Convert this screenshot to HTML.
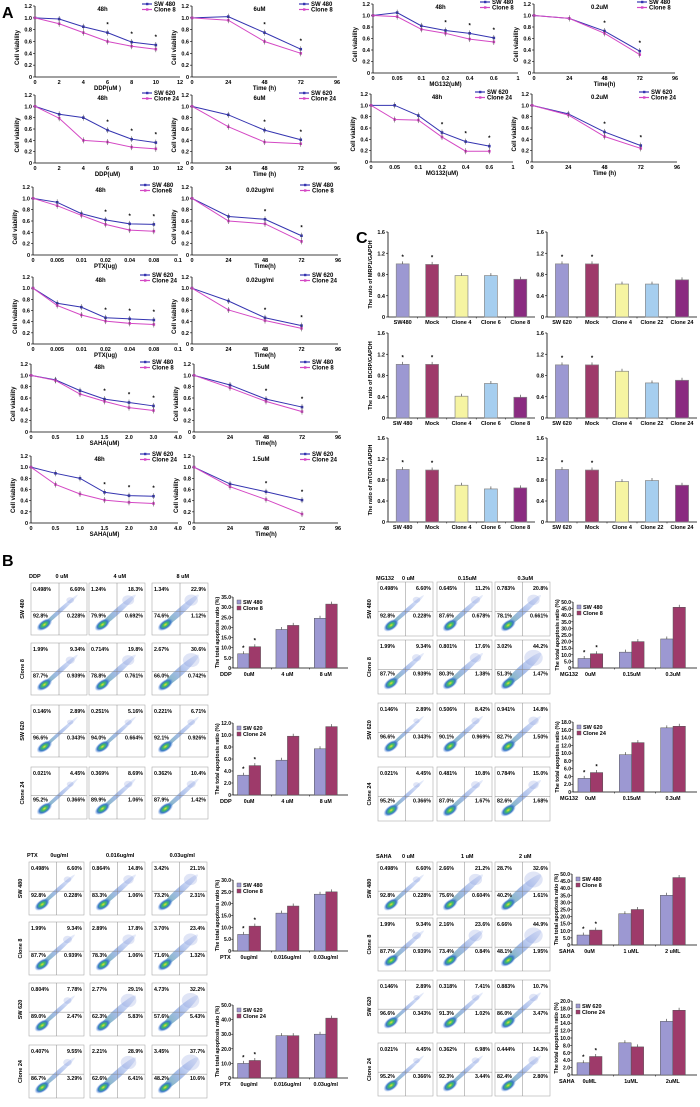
<!DOCTYPE html>
<html><head><meta charset="utf-8"><style>
html,body{margin:0;padding:0;background:#fff;}
svg{display:block;font-family:"Liberation Sans",Arial,sans-serif;font-weight:bold;}
</style></head><body>
<svg id="fig" width="700" height="1107" viewBox="0 0 700 1107" xmlns="http://www.w3.org/2000/svg">
<defs>
<radialGradient id="core" cx="50%" cy="50%" r="50%"><stop offset="0" stop-color="#f0e030"/><stop offset="0.3" stop-color="#40c060"/><stop offset="0.65" stop-color="#3a78c8"/><stop offset="1" stop-color="#7aa0e8" stop-opacity="0"/></radialGradient>
<linearGradient id="diag" x1="0" y1="0" x2="1" y2="0"><stop offset="0" stop-color="#30a070" stop-opacity="0.7"/><stop offset="0.5" stop-color="#3a6ad0" stop-opacity="0.45"/><stop offset="1" stop-color="#6a8ae0" stop-opacity="0.15"/></linearGradient>
</defs>
<text x="2" y="18" font-size="16">A</text>
<text x="356" y="243" font-size="16">C</text>
<text x="2" y="566" font-size="16">B</text>
</svg>
<script>
// ---- Panel A line chart data ----
const doseTicks=["0","2","4","6","8","10","12"];
const timeTicks=["0","24","48","72","96"];
const mgTicks=["0","0.05","0.1","0.2","0.4","0.6","1"];
const ptxTicks=["0","0.005","0.01","0.02","0.04","0.08","0.1"];
const sahaTicks=["0","0.5","1.0","1.5","2.0","3.0","4.0"];
const vTicks=[0,0.2,0.4,0.6,0.8,1.0,1.2];
const ddp480=[1.0,0.98,0.85,0.75,0.59,0.54], ddpC8=[1.0,0.9,0.75,0.6,0.52,0.47];
const ddpT480=[1.0,1.02,0.75,0.47], ddpTC8=[1.0,0.96,0.6,0.4];
const mg480=[1.0,1.05,0.82,0.74,0.69,0.61], mgC8=[1.0,0.98,0.76,0.69,0.59,0.54];
const mgT480=[1.0,0.95,0.73,0.38], mgTC8=[1.0,0.95,0.69,0.32];
const ddp620=[1.0,0.86,0.8,0.58,0.42,0.36], ddpC24=[1.0,0.79,0.4,0.37,0.28,0.25];
const ddpT620=[1.0,0.85,0.58,0.41], ddpTC24=[1.0,0.64,0.37,0.34];
const mg620=[1.0,1.0,0.82,0.52,0.36,0.28], mgC24=[1.0,0.75,0.74,0.44,0.19,0.19];
const mgT620=[1.0,0.85,0.53,0.29], mgTC24=[1.0,0.83,0.45,0.24];
const ptx480=[1.0,0.93,0.73,0.62,0.55,0.54], ptxC8=[1.0,0.87,0.7,0.54,0.44,0.42];
const ptxT480=[1.0,0.68,0.63,0.34], ptxTC8=[1.0,0.6,0.55,0.24];
const ptx620=[1.0,0.73,0.66,0.47,0.45,0.43], ptxC24=[1.0,0.69,0.52,0.41,0.37,0.35];
const ptxT620=[1.0,0.77,0.47,0.33], ptxTC24=[1.0,0.61,0.42,0.28];
const saha480=[1.0,0.92,0.73,0.58,0.52,0.46], sahaC8=[1.0,0.91,0.67,0.54,0.43,0.38];
const sahaT480=[1.0,0.83,0.58,0.44], sahaTC8=[1.0,0.78,0.54,0.36];
const saha620=[1.0,0.89,0.8,0.55,0.49,0.48], sahaC24=[1.0,0.69,0.52,0.41,0.37,0.35];
const sahaT620=[1.0,0.7,0.56,0.41], sahaTC24=[1.0,0.65,0.42,0.16];

// ---- Panel C bar data ----
const cColors=["#9c98d2","#9e3a6a","#f6f4a2","#a6ceef","#8a2b80"];
const cTicks=[0,0.4,0.8,1.2,1.6];
const cats480=["SW480","Mock","Clone 4","Clone 6","Clone 8"];
const cats480b=["SW 480","Mock","Clone 4","Clone 6","Clone 8"];
const cats620=["SW 620","Mock","Clone 4","Clone 22","Clone 24"];
const mrp480=[1.0,0.99,0.78,0.78,0.71], mrp620=[1.0,1.0,0.62,0.62,0.7];
const bcrp480=[1.01,1.01,0.41,0.65,0.39], bcrp620=[1.0,1.0,0.88,0.66,0.71];
const mtor480=[1.0,0.99,0.7,0.63,0.65], mtor620=[1.0,0.99,0.77,0.79,0.7];

// ---- Panel B apoptosis bar data ----
const ddpGroups=["0uM","4 uM","8 uM"], mgGroups=["0uM","0.15uM","0.3uM"];
const ptxGroups=["0ug/ml","0.016ug/ml","0.03ug/ml"], sahaGroups=["0uM","1 uML","2 uML"];
const sahaGroups2=["0uML","1uML","2uML"];
const apDdp480=[7,19,24.5], apDdpC8=[10.5,21,31.5];
const apDdp620=[3.3,5.8,7.7], apDdpC24=[4.9,9.8,11.4];
const apMg480=[7.2,12,22], apMgC8=[10.8,20,46];
const apMg620=[3.5,9.6,16.5], apMgC24=[5,12.7,16.9];
const apPtx480=[7,16,24], apPtxC8=[10.5,19,25];
const apPtx620=[10,29,30], apPtxC24=[12,29,41];
const apSaha480=[7,22,35], apSahaC8=[10.5,25,47.5];
const apSaha620=[3.3,8.7,14.5], apSahaC24=[5,7.6,17.5];

// ---- Panel B flow quadrant values [UL, UR, LL, LR] ----
const fBase480=[0.498,6.60,92.8,0.228], fBaseC8=[1.99,9.34,87.7,0.939], fBase620=[0.146,2.89,96.6,0.343], fBaseC24=[0.021,4.45,95.2,0.366];
const fDdp=[[fBase480,[1.24,18.3,79.9,0.692],[1.34,22.9,74.6,1.12]],[fBaseC8,[0.714,19.8,78.8,0.761],[2.67,30.6,66.0,0.742]],[fBase620,[0.251,5.16,94.0,0.664],[0.221,6.71,92.1,0.926]],[fBaseC24,[0.369,8.69,89.9,1.06],[0.362,10.4,87.9,1.42]]];
const fMg=[[fBase480,[0.645,11.2,87.6,0.678],[0.783,20.8,78.1,0.661]],[fBaseC8,[0.801,17.6,80.3,1.38],[3.02,44.2,51.3,1.47]],[fBase620,[0.506,8.42,90.1,0.969],[0.941,14.8,82.7,1.50]],[fBaseC24,[0.481,10.8,87.0,1.67],[0.784,15.0,82.6,1.68]]];
const fPtx=[[fBase480,[0.864,14.8,83.3,1.06],[3.42,21.1,73.2,2.31]],[fBaseC8,[2.89,17.8,78.3,1.06],[3.70,23.4,71.6,1.32]],[[0.804,7.78,89.0,2.47],[2.77,29.1,62.3,5.83],[4.73,32.2,57.6,5.43]],[[0.407,9.55,86.7,3.29],[2.21,28.9,62.6,6.41],[3.45,37.7,48.2,10.6]]];
const fSaha=[[fBase480,[2.66,21.2,75.6,0.604],[28.7,32.6,40.2,1.61]],[fBaseC8,[2.16,23.6,73.4,0.84],[6.66,44.9,48.1,1.95]],[fBase620,[0.318,7.41,91.3,1.02],[0.883,10.7,86.0,3.47]],[fBaseC24,[0.362,6.98,92.3,3.437],[0.444,14.3,82.4,2.80]]];

const NS="http://www.w3.org/2000/svg";
const svg=document.getElementById('fig');
function el(tag,attrs,parent,txt){const e=document.createElementNS(NS,tag);for(const k in attrs)e.setAttribute(k,attrs[k]);if(txt!==undefined)e.textContent=txt;(parent||svg).appendChild(e);return e;}
function grp(name,parent){const g=el('g',{},parent);return g;}

const BLUE="#3434b0", MAG="#d448c4";
function lineChart(name,x0,x1,yT,yB,title,xlabel,xt,s1,s2,n1,n2){
  const g=grp(name);
  const n=xt.length;
  const X=i=>x0+i*(x1-x0)/(n-1);
  const Y=v=>yB-(v/1.2)*(yB-yT);
  el('line',{x1:x0,y1:yT,x2:x0,y2:yB,stroke:'#000','stroke-width':0.8},g);
  el('line',{x1:x0,y1:yB,x2:x1,y2:yB,stroke:'#000','stroke-width':0.8},g);
  vTicks.forEach(v=>{el('line',{x1:x0-2,y1:Y(v),x2:x0,y2:Y(v),stroke:'#000','stroke-width':0.6},g);
    const t=el('text',{x:x0-3,y:Y(v)+2,'font-size':5.5,'text-anchor':'end'},g,v===0?'0':v.toFixed(1));});
  xt.forEach((l,i)=>{const t=el('text',{x:X(i),y:yB+7,'font-size':5.5,'text-anchor':'middle'},g,l);});
  const xtl=el('text',{x:(x0+x1)/2,y:yB+13,'font-size':6,'text-anchor':'middle'},g,xlabel);
  
  const yl=el('text',{x:0,y:0,'font-size':6,'text-anchor':'middle',transform:`translate(${x0-16},${(yT+yB)/2+6}) rotate(-90)`},g,'Cell viability');
  
  const tt=el('text',{x:(x0+x1)/2-5,y:yT+5,'font-size':6,'text-anchor':'middle'},g,title);
  
  [[s1,BLUE],[s2,MAG]].forEach(([s,c],k)=>{
    const pts=s.map((v,i)=>X(i)+','+Y(v)).join(' ');
    const pl=el('polyline',{points:pts,fill:'none',stroke:c,'stroke-width':1},g);
    
    s.forEach((v,i)=>{const r=el('rect',{x:X(i)-1.3,y:Y(v)-1.3,width:2.6,height:2.6,fill:c},g);
      
      el('line',{x1:X(i),y1:Y(v)-3,x2:X(i),y2:Y(v)+3,stroke:'#444','stroke-width':0.5},g);});
  });
  s1.forEach((v,i)=>{if(i>=(s1.length>4?3:2)){el('text',{x:X(i),y:Y(Math.max(v,s2[i]))-6,'font-size':6,'text-anchor':'middle'},g,'*');}});
  const lx=x1-38+ (x1-x0>150?10:0), ly=yT-2;
  [[n1,BLUE],[n2,MAG]].forEach(([nm,c],k)=>{
    const lg=grp('legend-entry',g);
    el('line',{x1:lx,y1:ly+k*5.5,x2:lx+10,y2:ly+k*5.5,stroke:c,'stroke-width':1.2},lg);
    el('rect',{x:lx+4,y:ly+k*5.5-1.2,width:2.4,height:2.4,fill:c},lg);
    el('text',{x:lx+12,y:ly+k*5.5+2,'font-size':6},lg,nm);
  });
}
lineChart('chart-ddp-dose-sw480',35,180,6,77,'48h','DDP(uM )',doseTicks,ddp480,ddpC8,'SW 480','Clone 8');
lineChart('chart-ddp-time-sw480',192,337,6,77,'6uM','Time (h)',timeTicks,ddpT480,ddpTC8,'SW 480','Clone 8');
lineChart('chart-mg132-dose-sw480',373,518,4,73,'48h','MG132(uM)',mgTicks,mg480,mgC8,'SW 480','Clone 8');
lineChart('chart-mg132-time-sw480',534,675,4,73,'0.2uM','Time(h)',timeTicks,mgT480,mgTC8,'SW 480','Clone 8');
lineChart('chart-ddp-dose-sw620',35,180,95,163,'48h','DDP(uM)',doseTicks,ddp620,ddpC24,'SW 620','Clone 24');
lineChart('chart-ddp-time-sw620',192,337,95,163,'6uM','Time (h)',timeTicks,ddpT620,ddpTC24,'SW 620','Clone 24');
lineChart('chart-mg132-dose-sw620',371,513,94,162,'48h','MG132(uM)',mgTicks,mg620,mgC24,'SW 620','Clone 24');
lineChart('chart-mg132-time-sw620',532,677,94,162,'0.2uM','Time (h)',timeTicks,mgT620,mgTC24,'SW 620','Clone 24');
lineChart('chart-ptx-dose-sw480',33,178,187,255,'48h','PTX(ug)',ptxTicks,ptx480,ptxC8,'SW 480','Clone8');
lineChart('chart-ptx-time-sw480',192,338,187,255,'0.02ug/ml','Time(h)',timeTicks,ptxT480,ptxTC8,'SW 480','Clone 8');
lineChart('chart-ptx-dose-sw620',33,178,277,344,'48h','PTX(ug)',ptxTicks,ptx620,ptxC24,'SW 620','Clone 24');
lineChart('chart-ptx-time-sw620',192,338,277,344,'0.02ug/ml','Time(h)',timeTicks,ptxT620,ptxTC24,'SW 620','Clone 24');
lineChart('chart-saha-dose-sw480',31,178,364,432,'48h','SAHA(uM)',sahaTicks,saha480,sahaC8,'SW 480','Clone 8');
lineChart('chart-saha-time-sw480',194,338,364,432,'1.5uM','Time(h)',timeTicks,sahaT480,sahaTC8,'SW 480','Clone 8');
lineChart('chart-saha-dose-sw620',31,178,456,523,'48h','SAHA(uM)',sahaTicks,saha620,sahaC24,'SW 620','Clone 24');
lineChart('chart-saha-time-sw620',194,338,456,523,'1.5uM','Time(h)',timeTicks,sahaT620,sahaTC24,'SW 620','Clone 24');

// ---- Panel C ----
function cChart(name,x0,x1,yT,yB,ylab,cats,vals){
  const g=grp(name);
  const Y=v=>yB-(v/1.6)*(yB-yT);
  const slot=(x1-x0)/cats.length;
  el('line',{x1:x0,y1:yT,x2:x0,y2:yB,stroke:'#000','stroke-width':0.8},g);
  el('line',{x1:x0,y1:yB,x2:x1,y2:yB,stroke:'#000','stroke-width':0.8},g);
  cTicks.forEach(v=>{el('line',{x1:x0-2,y1:Y(v),x2:x0,y2:Y(v),stroke:'#000','stroke-width':0.6},g);
    el('text',{x:x0-3,y:Y(v)+2,'font-size':5.5,'text-anchor':'end'},g,v===0?'0':v.toFixed(1));});
  if(ylab){const t=el('text',{x:0,y:0,'font-size':5.5,'text-anchor':'middle',transform:`translate(${x0-16},${(yT+yB)/2}) rotate(-90)`},g,ylab);}
  vals.forEach((v,i)=>{
    const bx=x0+i*slot+slot*0.28, bw=slot*0.44;
    const r=el('rect',{x:bx,y:Y(v),width:bw,height:yB-Y(v),fill:cColors[i],stroke:'#888','stroke-width':0.7},g);
    
    el('line',{x1:bx+bw/2,y1:Y(v)-2.5,x2:bx+bw/2,y2:Y(v),stroke:'#333','stroke-width':0.6},g);
    if(i<2)el('text',{x:bx+bw/2,y:Y(v)-5,'font-size':6,'text-anchor':'middle'},g,'*');
    el('text',{x:x0+i*slot+slot/2,y:yB+7,'font-size':5.5,'text-anchor':'middle'},g,cats[i]);
    if(i>0)el('line',{x1:x0+i*slot,y1:yB,x2:x0+i*slot,y2:yB+1.5,stroke:'#000','stroke-width':0.5},g);
  });
}
cChart('chart-mrp1-sw480',388,535,232,317,'The ratio of MRP1/GAPDH',cats480,mrp480);
cChart('chart-mrp1-sw620',547,697,232,317,'',cats620,mrp620);
cChart('chart-bcrp-sw480',388,535,333,418,'The ratio of BCRP/GAPDH',cats480b,bcrp480);
cChart('chart-bcrp-sw620',547,697,333,418,'',cats620,bcrp620);
cChart('chart-mtor-sw480',388,535,438,522,'The ratio of  mTOR /GAPDH',cats480b,mtor480);
cChart('chart-mtor-sw620',547,697,438,522,'',cats620,mtor620);

// ---- Panel B flow plots ----
function fmt(v){return (v>=1?v.toPrecision(3):String(v))+'%';}
function flowGroup(name,drug,concs,cols,rows,w,h,hy,data){
  const g=grp(name);
  el('text',{x:cols[0]-2,y:hy,'font-size':5.5},g,drug);
  concs.forEach((c,j)=>el('text',{x:cols[j]+w*0.55,y:hy,'font-size':5.5,'text-anchor':'middle'},g,c));
  const rl=['SW 480','Clone 8','SW 620','Clone 24'];
  rows.forEach((ry,i)=>{
    const t=el('text',{x:0,y:0,'font-size':5.5,'text-anchor':'middle',transform:`translate(${cols[0]-7},${ry+h/2}) rotate(-90)`},g,rl[i]);
    
    cols.forEach((cx,j)=>{
      const q=data[i][j];
      const p=grp('flow-plot',g);
      el('rect',{x:cx,y:ry,width:w,height:h,fill:'#fff',stroke:'#aaa','stroke-width':0.6},p);
      const spread=Math.min(1,(q[1]+q[0])/40);
      const mx=cx+w*0.5, my=ry+h*0.55;
      el('ellipse',{cx:mx,cy:my,rx:w*0.45,ry:1.5+spread*3,fill:'url(#diag)',transform:`rotate(-42 ${mx} ${my})`},p);
      el('ellipse',{cx:cx+w*0.7,cy:ry+h*0.33,rx:w*0.12*(0.4+spread),ry:2+spread*6,fill:'#7088d8','fill-opacity':0.22},p);
      el('ellipse',{cx:cx+w*0.24,cy:ry+h*0.8,rx:w*0.16,ry:h*0.09,fill:'url(#core)',transform:`rotate(-35 ${cx+w*0.24} ${ry+h*0.8})`},p);
      el('line',{x1:cx+w*0.5,y1:ry,x2:cx+w*0.5,y2:ry+h,stroke:'#888','stroke-width':0.5},p);
      el('line',{x1:cx,y1:ry+h*0.55,x2:cx+w,y2:ry+h*0.55,stroke:'#888','stroke-width':0.5},p);
      el('text',{x:cx+2,y:ry+8,'font-size':5.3},p,fmt(q[0]));
      el('text',{x:cx+w-2,y:ry+8,'font-size':5.3,'text-anchor':'end'},p,fmt(q[1]));
      el('text',{x:cx+2,y:ry+h*0.55+6,'font-size':5.3},p,fmt(q[2]));
      el('text',{x:cx+w-2,y:ry+h*0.55+6,'font-size':5.3,'text-anchor':'end'},p,fmt(q[3]));
    });
  });
}
flowGroup('flow-ddp','DDP',['0 uM','4 uM','8 uM'],[31,89,152],[583,643,705,767],56,52,578,fDdp);
flowGroup('flow-mg132','MG132',['0 uM','0.15uM','0.3uM'],[378,437,495],[582,640,703,767],55,54,580,fMg);
flowGroup('flow-ptx','PTX',['0ug/ml','0.016ug/ml','0.03ug/ml'],[29,90,152],[862,922,983,1045],55,53,857,fPtx);
flowGroup('flow-saha','SAHA',['0 uM','1 uM','2 uM'],[378,437,495],[862,918,980,1043],55,53,858,fSaha);

// ---- Panel B apoptosis bar charts ----
function apChart(name,x0,x1,yT,yB,max,step,drug,groups,a,b,n1,n2){
  const g=grp(name);
  const Y=v=>yB-(v/max)*(yB-yT);
  const gw=(x1-x0)/3;
  el('line',{x1:x0,y1:yT,x2:x0,y2:yB,stroke:'#000','stroke-width':0.8},g);
  el('line',{x1:x0,y1:yB,x2:x1,y2:yB,stroke:'#000','stroke-width':0.8},g);
  for(let v=0;v<=max+1e-9;v+=step){el('line',{x1:x0-2,y1:Y(v),x2:x0,y2:Y(v),stroke:'#000','stroke-width':0.5},g);
    el('text',{x:x0-2,y:Y(v)+2,'font-size':5,'text-anchor':'end'},g,v===0?'0':v.toFixed(1));}
  const t=el('text',{x:0,y:0,'font-size':5.3,'text-anchor':'middle',transform:`translate(${x0-14},${(yT+yB)/2}) rotate(-90)`},g,'The total apoptosis ratio (%)');
  
  el('text',{x:x0-13,y:yB+8,'font-size':5.5},g,drug);
  groups.forEach((lab,i)=>{
    const gx=x0+i*gw, bw=gw*0.3;
    [[a[i],'#9c98d2'],[b[i],'#9e3a6a']].forEach(([v,c],k)=>{
      const bx=gx+gw*0.12+k*bw;
      const r=el('rect',{x:bx,y:Y(v),width:bw,height:yB-Y(v),fill:c,stroke:'#555','stroke-width':0.5},g);
      
      el('line',{x1:bx+bw/2,y1:Y(v)-2.5,x2:bx+bw/2,y2:Y(v),stroke:'#333','stroke-width':0.6},g);
      if(i===0)el('text',{x:bx+bw/2,y:Y(v)-4,'font-size':6,'text-anchor':'middle'},g,'*');
    });
    el('text',{x:gx+gw*0.42,y:yB+8,'font-size':5.3,'text-anchor':'middle'},g,lab);
    if(i>0)el('line',{x1:gx,y1:yB,x2:gx,y2:yB+1.5,stroke:'#000','stroke-width':0.5},g);
  });
  [[n1,'#9c98d2'],[n2,'#9e3a6a']].forEach(([nm,c],k)=>{
    const lg=grp('legend-entry',g);
    el('rect',{x:x0+4,y:yT+3+k*6,width:4,height:4,fill:c,stroke:'#555','stroke-width':0.4},lg);
    el('text',{x:x0+10,y:yT+7+k*6,'font-size':5.5},lg,nm);
  });
}
apChart('apoptosis-ddp-sw480',233,348,597,668,35,5,'DDP',ddpGroups,apDdp480,apDdpC8,'SW 480','Clone 8');
apChart('apoptosis-ddp-sw620',233,348,723,795,12,2,'DDP',ddpGroups,apDdp620,apDdpC24,'SW 620','Clone 24');
apChart('apoptosis-mg132-sw480',573,697,602,668,50,5,'MG132',mgGroups,apMg480,apMgC8,'SW 480','Clone 8');
apChart('apoptosis-mg132-sw620',573,697,722,792,18,2,'MG132',mgGroups,apMg620,apMgC24,'SW 620','Clone 24');
apChart('apoptosis-ptx-sw480',233,348,880,951,30,5,'PTX',ptxGroups,apPtx480,apPtxC8,'SW 480','Clone 8');
apChart('apoptosis-ptx-sw620',233,348,1005,1078,50,10,'PTX',ptxGroups,apPtx620,apPtxC24,'SW 620','Clone 24');
apChart('apoptosis-saha-sw480',572,697,874,945,50,5,'SAHA',sahaGroups,apSaha480,apSahaC8,'SW 480','Clone 8');
apChart('apoptosis-saha-sw620',572,697,1001,1075,20,2,'SAHA',sahaGroups2,apSaha620,apSahaC24,'SW 620','Clone 24');
</script>
</body></html>
